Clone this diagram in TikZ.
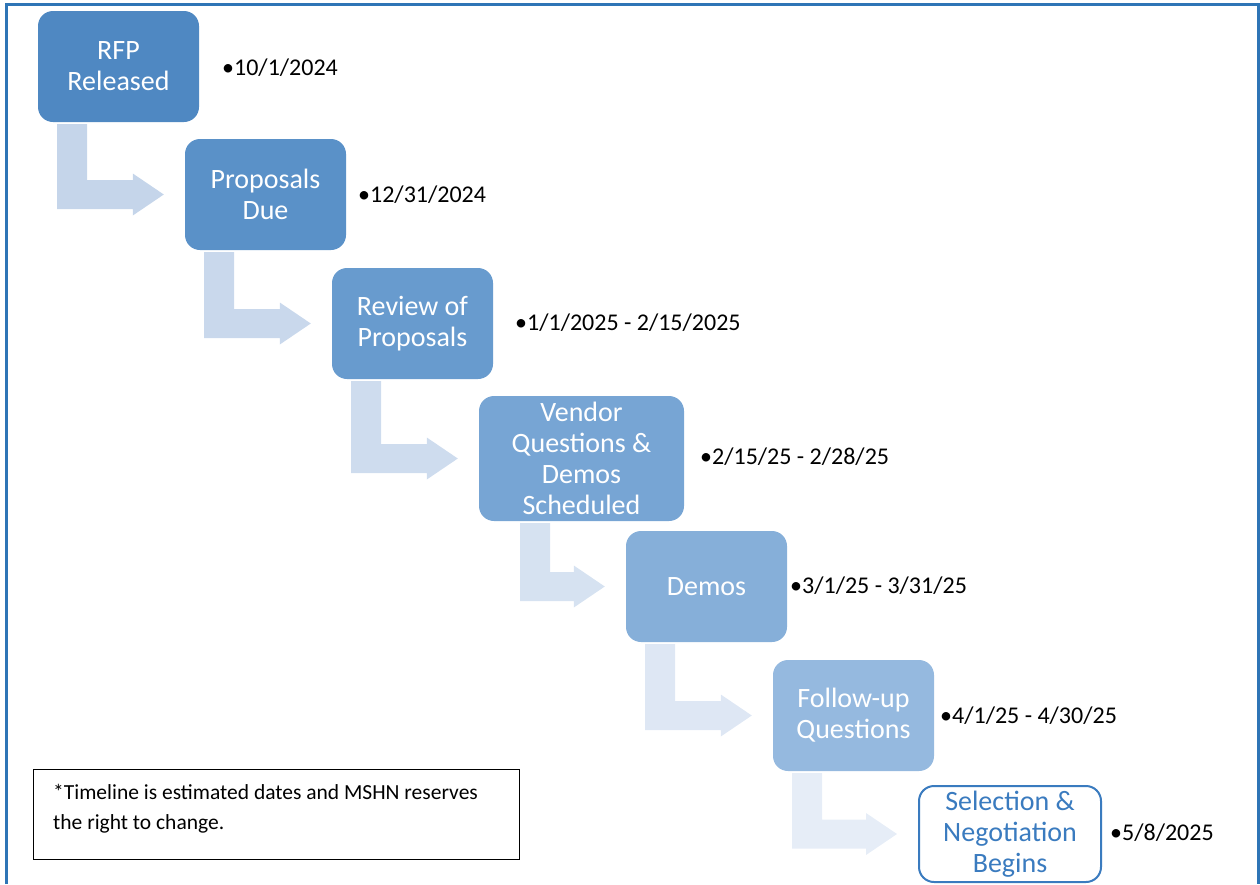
\documentclass[tikz,border=0pt]{standalone}
\usepackage{fontspec}
\setmainfont{Carlito}
\usetikzlibrary{calc}

\definecolor{frameblue}{HTML}{2E75B6}
\definecolor{boxA}{HTML}{4F88C2}
\definecolor{boxB}{HTML}{5A91C8}
\definecolor{boxC}{HTML}{689BCE}
\definecolor{boxD}{HTML}{77A5D4}
\definecolor{boxE}{HTML}{86AFD9}
\definecolor{boxF}{HTML}{95B9DF}
\definecolor{arrA}{HTML}{C5D5EA}
\definecolor{arrB}{HTML}{C9D8EC}
\definecolor{arrC}{HTML}{CEDCEE}
\definecolor{arrD}{HTML}{D6E2F1}
\definecolor{arrE}{HTML}{DEE7F4}
\definecolor{arrF}{HTML}{E6EDF7}
\definecolor{lastblue}{HTML}{3A7BBF}

% bent arrow from below one step to the left side of the next
\newcommand{\bendarrow}[3]{%
  \fill[#3] let \p1=(#1.south), \p2=(#2.west) in
    (\x1-61.5pt,\y1-2pt) -- (\x1-31.5pt,\y1-2pt) -- (\x1-31.5pt,\y2+14.5pt)
    -- (\x2-52pt,\y2+14.5pt) -- (\x2-52pt,\y2+21pt) -- (\x2-21pt,\y2)
    -- (\x2-52pt,\y2-21pt) -- (\x2-52pt,\y2-14.5pt) -- (\x1-61.5pt,\y2-14.5pt) -- cycle;}

\begin{document}
\begin{tikzpicture}[x=1pt, y=-1pt,
  stepbox/.style={rounded corners=15pt, minimum width=161pt, minimum height=111pt,
    align=center, text=white, inner sep=2pt,
    font=\fontsize{28}{31}\selectfont},
  datetext/.style={anchor=west, inner sep=0pt, font=\fontsize{24}{28}\selectfont}]
\useasboundingbox (0,0) rectangle (1260,884);
\draw[frameblue, line width=3pt] (6,884) -- (6,4) -- (1258,4) -- (1258,884);

% steps
\node[stepbox, fill=boxA] (rfp) at (118.5,66.5) {RFP\\Released};
\node[stepbox, fill=boxB] (due) at (265.5,194.5) {Proposals\\Due};
\node[stepbox, fill=boxC] (review) at (412.5,323.5) {Review of\\Proposals};
\node[stepbox, fill=boxD, minimum width=205pt, minimum height=125pt] (vendor) at (581.5,458.5) {Vendor\\Questions \&\\Demos\\Scheduled};
\node[stepbox, fill=boxE] (demos) at (706.5,586.5) {Demos};
\node[stepbox, fill=boxF] (follow) at (853.5,715.5) {Follow-up\\Questions};
\node[stepbox, fill=white, draw=lastblue, line width=2pt, text=lastblue,
  minimum width=182pt, minimum height=96pt] (select) at (1010,834) {Selection \&\\Negotiation\\Begins};

% arrows
\bendarrow{rfp}{due}{arrA}
\bendarrow{due}{review}{arrB}
\bendarrow{review}{vendor}{arrC}
\bendarrow{vendor}{demos}{arrD}
\bendarrow{demos}{follow}{arrE}
\bendarrow{follow}{select}{arrF}

% dates
\node[datetext] (drfp) at (222,68) {•10/1/2024};
\node[datetext] (ddue) at (358,195) {•12/31/2024};
\node[datetext] (dreview) at (515,323) {•1/1/2025 - 2/15/2025};
\node[datetext] (dvendor) at (700,457) {•2/15/25 - 2/28/25};
\node[datetext] (ddemos) at (790,586) {•3/1/25 - 3/31/25};
\node[datetext] (dfollow) at (940,716) {•4/1/25 - 4/30/25};
\node[datetext] (dselect) at (1110,833) {•5/8/2025};

% note
\draw[line width=1pt] (33,769) rectangle (519,859);
\node[anchor=north west, align=left, inner sep=0pt,
  font=\fontsize{21.5}{30}\selectfont] (note) at (53,784)
  {*Timeline is estimated dates and MSHN reserves\\the right to change.};
\end{tikzpicture}
\end{document}
